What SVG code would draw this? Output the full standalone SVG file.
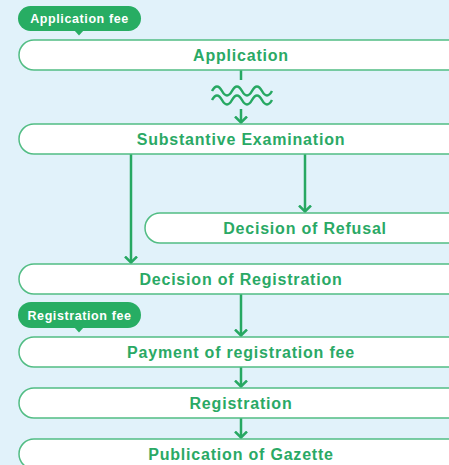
<svg xmlns="http://www.w3.org/2000/svg" width="449" height="465" viewBox="0 0 449 465">
<defs>
<style>
.bg{fill:#e1f2fa}
.box{fill:#ffffff;stroke:#52bd84;stroke-width:1.5}
.lbl{font-family:"Liberation Sans",Arial,sans-serif;font-weight:bold;font-size:16px;letter-spacing:0.8px;fill:#2aa965;text-anchor:middle}
.pill{fill:#27ad63}
.fee{font-family:"Liberation Sans",Arial,sans-serif;font-weight:bold;font-size:12.5px;letter-spacing:0.6px;fill:#ffffff;text-anchor:middle}
.ln{fill:none;stroke:#27a862;stroke-width:2.5}
</style>
<marker id="ah" viewBox="0 0 8 14" refX="7" refY="7" markerWidth="8" markerHeight="14" markerUnits="userSpaceOnUse" orient="auto">
<path d="M1,1 L7,7 L1,13" fill="none" stroke="#27a862" stroke-width="2.5"/>
</marker>
</defs>
<rect class="bg" x="0" y="0" width="449" height="465"/>

<g id="connectors">
<line class="ln" x1="241" y1="70" x2="241" y2="80"/>
<path class="ln" d="M212,91 q5,-9 10,0 t10,0 t10,0 t10,0 t10,0 t10,0"/>
<path class="ln" d="M212,100 q5,-9 10,0 t10,0 t10,0 t10,0 t10,0 t10,0"/>
<line class="ln" x1="241" y1="109" x2="241" y2="122.5" marker-end="url(#ah)"/>
<line class="ln" x1="131" y1="154" x2="131" y2="262.5" marker-end="url(#ah)"/>
<line class="ln" x1="305" y1="154" x2="305" y2="211.5" marker-end="url(#ah)"/>
<line class="ln" x1="241" y1="294" x2="241" y2="335.5" marker-end="url(#ah)"/>
<line class="ln" x1="241" y1="367" x2="241" y2="386.5" marker-end="url(#ah)"/>
<line class="ln" x1="241" y1="418" x2="241" y2="437.5" marker-end="url(#ah)"/>
</g>

<g id="application-fee">
<rect class="pill" x="18" y="6" width="123" height="25" rx="12.5"/>
<path class="pill" d="M74,30 L79,35.5 L84,30 Z"/>
<text class="fee" x="79.5" y="23">Application fee</text>
</g>

<g id="application">
<rect class="box" x="19" y="40" width="460" height="30" rx="15"/>
<text class="lbl" x="241" y="60.5">Application</text>
</g>

<g id="substantive-examination">
<rect class="box" x="19" y="124" width="460" height="30" rx="15"/>
<text class="lbl" x="241" y="144.5">Substantive Examination</text>
</g>

<g id="decision-refusal">
<rect class="box" x="145" y="213" width="334" height="30" rx="15"/>
<text class="lbl" x="305" y="233.5">Decision of Refusal</text>
</g>

<g id="decision-registration">
<rect class="box" x="19" y="264" width="460" height="30" rx="15"/>
<text class="lbl" x="241" y="284.5">Decision of Registration</text>
</g>

<g id="registration-fee">
<rect class="pill" x="18" y="302" width="123" height="26" rx="13"/>
<path class="pill" d="M74,327 L79,332.5 L84,327 Z"/>
<text class="fee" x="79.5" y="319.5">Registration fee</text>
</g>

<g id="payment">
<rect class="box" x="19" y="337" width="460" height="30" rx="15"/>
<text class="lbl" x="241" y="357.5">Payment of registration fee</text>
</g>

<g id="registration">
<rect class="box" x="19" y="388" width="460" height="30" rx="15"/>
<text class="lbl" x="241" y="408.5">Registration</text>
</g>

<g id="publication">
<rect class="box" x="19" y="439" width="460" height="30" rx="15"/>
<text class="lbl" x="241" y="460">Publication of Gazette</text>
</g>
</svg>
